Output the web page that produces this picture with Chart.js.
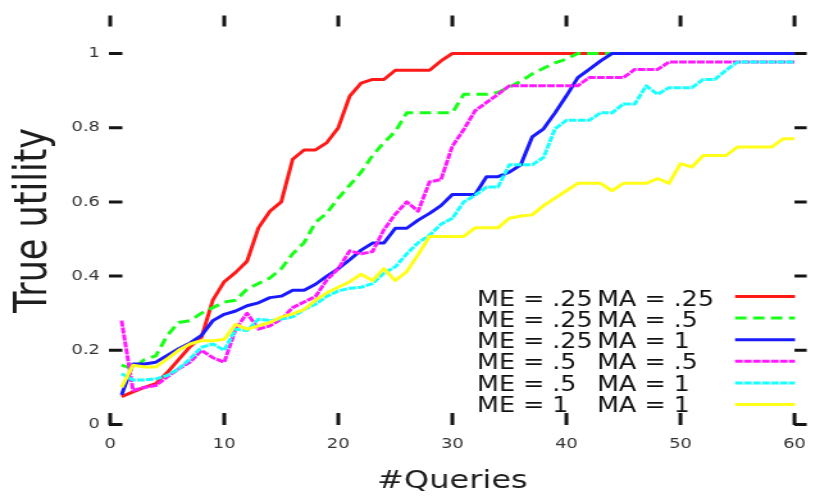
<!DOCTYPE html>
<html>
<head>
<meta charset="utf-8">
<script src="https://cdn.jsdelivr.net/npm/chart.js@4.4.1/dist/chart.umd.min.js"></script>
<style>
  html, body { margin: 0; padding: 0; background: #fff; overflow: hidden; }
  /* the plot is laid out on a 640px-wide stage and widened to 820px */
  #stage { width: 640px; height: 497px; transform: scaleX(1.28125); transform-origin: 0 0; }
</style>
</head>
<body>
<div id="stage"><canvas id="chart"></canvas></div>
<script>
// number of queries asked so far
const queries = [
  1, 2, 3, 4, 5, 6, 7, 8, 9, 10,
  11, 12, 13, 14, 15, 16, 17, 18, 19, 20,
  21, 22, 23, 24, 25, 26, 27, 28, 29, 30,
  31, 32, 33, 34, 35, 36, 37, 38, 39, 40,
  41, 42, 43, 44, 45, 46, 47, 48, 49, 50,
  51, 52, 53, 54, 55, 56, 57, 58, 59, 60
];

const xTicks = [0, 10, 20, 30, 40, 50, 60];
const xTickLabels = ['0', '10', '20', '30', '40', '50', '60'];
const yTicks = [0, 0.2, 0.4, 0.6, 0.8, 1];
const yTickLabels = ['0', '0.2', '0.4', '0.6', '0.8', '1'];

// ME / MA settings of each run
const meValues = ['.25', '.25', '.25', '.5', '.5', '1'];
const maValues = ['.25', '.5', '1', '.5', '1', '1'];

// true utility after each query
const utilMe25Ma25 = [
  0.075, 0.088, 0.10, 0.11, 0.14, 0.175, 0.21, 0.235, 0.335, 0.385,
  0.41, 0.44, 0.53, 0.575, 0.60, 0.715, 0.74, 0.74, 0.76, 0.80,
  0.885, 0.92, 0.93, 0.93, 0.955, 0.955, 0.955, 0.955, 0.98, 1,
  1, 1, 1, 1, 1, 1, 1, 1, 1, 1,
  1, 1, 1, 1, 1, 1, 1, 1, 1, 1,
  1, 1, 1, 1, 1, 1, 1, 1, 1, 1
];
const utilMe25Ma5 = [
  0.16, 0.15, 0.175, 0.185, 0.24, 0.275, 0.28, 0.30, 0.315, 0.33,
  0.335, 0.365, 0.38, 0.395, 0.42, 0.46, 0.49, 0.545, 0.57, 0.61,
  0.645, 0.68, 0.725, 0.76, 0.79, 0.84, 0.84, 0.84, 0.84, 0.84,
  0.89, 0.89, 0.89, 0.895, 0.91, 0.925, 0.945, 0.96, 0.975, 0.985,
  1, 1, 1, 1, 1, 1, 1, 1, 1, 1,
  1, 1, 1, 1, 1, 1, 1, 1, 1, 1
];
const utilMe25Ma1 = [
  0.08, 0.163, 0.163, 0.168, 0.186, 0.204, 0.22, 0.24, 0.28, 0.297,
  0.306, 0.32, 0.328, 0.342, 0.346, 0.362, 0.362, 0.378, 0.40, 0.42,
  0.444, 0.47, 0.489, 0.489, 0.529, 0.529, 0.551, 0.569, 0.59, 0.62,
  0.62, 0.62, 0.668, 0.668, 0.68, 0.70, 0.775, 0.797, 0.84, 0.886,
  0.935, 0.957, 0.98, 1, 1, 1, 1, 1, 1, 1,
  1, 1, 1, 1, 1, 1, 1, 1, 1, 1
];
const utilMe5Ma5 = [
  0.28, 0.092, 0.10, 0.105, 0.128, 0.15, 0.168, 0.20, 0.18, 0.168,
  0.257, 0.30, 0.257, 0.266, 0.284, 0.315, 0.33, 0.345, 0.39, 0.42,
  0.468, 0.46, 0.466, 0.525, 0.567, 0.60, 0.575, 0.654, 0.66, 0.75,
  0.795, 0.846, 0.868, 0.89, 0.913, 0.913, 0.913, 0.913, 0.913, 0.913,
  0.913, 0.935, 0.935, 0.935, 0.935, 0.957, 0.957, 0.957, 0.977, 0.977,
  0.977, 0.977, 0.977, 0.977, 0.977, 0.977, 0.977, 0.977, 0.977, 0.977
];
const utilMe5Ma1 = [
  0.137, 0.12, 0.12, 0.123, 0.132, 0.15, 0.177, 0.208, 0.217, 0.20,
  0.257, 0.253, 0.284, 0.28, 0.284, 0.29, 0.31, 0.324, 0.346, 0.36,
  0.367, 0.37, 0.38, 0.408, 0.425, 0.46, 0.49, 0.51, 0.54, 0.556,
  0.60, 0.618, 0.64, 0.64, 0.70, 0.70, 0.70, 0.72, 0.797, 0.82,
  0.82, 0.82, 0.84, 0.84, 0.864, 0.864, 0.913, 0.89, 0.908, 0.908,
  0.908, 0.93, 0.93, 0.955, 0.977, 0.977, 0.977, 0.977, 0.977, 0.977
];
const utilMe1Ma1 = [
  0.10, 0.16, 0.155, 0.155, 0.177, 0.20, 0.217, 0.226, 0.226, 0.23,
  0.27, 0.257, 0.266, 0.275, 0.29, 0.298, 0.31, 0.335, 0.355, 0.37,
  0.385, 0.405, 0.388, 0.42, 0.388, 0.412, 0.458, 0.507, 0.507, 0.507,
  0.507, 0.53, 0.53, 0.53, 0.556, 0.562, 0.565, 0.59, 0.61, 0.63,
  0.65, 0.65, 0.65, 0.63, 0.65, 0.65, 0.65, 0.663, 0.65, 0.703,
  0.694, 0.725, 0.725, 0.725, 0.748, 0.748, 0.748, 0.748, 0.77, 0.77
];

const seriesValues = [utilMe25Ma25, utilMe25Ma5, utilMe25Ma1, utilMe5Ma5, utilMe5Ma1, utilMe1Ma1];
const seriesColors = ['#ff1a1a', '#1aff1a', '#1a1aff', '#ff1aff', '#1affff', '#ffff1a'];
const seriesDashes = [[], [9, 5], [], [6, 1], [6, 1], []];

const FONT = '"DejaVu Sans", "Liberation Sans", sans-serif';

const datasets = seriesValues.map((vals, i) => ({
  label: 'ME = ' + meValues[i] + ' MA = ' + maValues[i],
  data: queries.map((q, k) => ({ x: q, y: vals[k] })),
  borderColor: seriesColors[i],
  borderDash: seriesDashes[i],
  borderWidth: 3,
  fill: false,
  pointRadius: 0,
  tension: 0,
  order: seriesValues.length - i   // later runs are painted on top
}));

// short tick marks on all four sides
const frameTicks = {
  id: 'frameTicks',
  afterDatasetsDraw(chart) {
    const { ctx, chartArea: a, scales: { x, y } } = chart;
    ctx.save();
    ctx.strokeStyle = '#151515';
    ctx.lineCap = 'butt';
    ctx.setLineDash([]);
    ctx.lineWidth = 3;
    y.ticks.forEach(t => {
      const py = y.getPixelForValue(t.value);
      ctx.beginPath();
      ctx.moveTo(a.left - 1, py); ctx.lineTo(a.left + 9.5, py);
      ctx.moveTo(a.right, py); ctx.lineTo(a.right + 9.5, py);
      ctx.stroke();
    });
    x.ticks.forEach(t => {
      const px = x.getPixelForValue(t.value);
      ctx.beginPath();
      ctx.moveTo(px, a.bottom + 0.5); ctx.lineTo(px, a.bottom - 11.5);
      ctx.moveTo(px, a.top - 1); ctx.lineTo(px, a.top + 10);
      ctx.stroke();
    });
    ctx.restore();
  }
};

// key inside the plot, lower right
const keyBox = {
  id: 'keyBox',
  afterDraw(chart) {
    const { ctx } = chart;
    chart.data.datasets.forEach((ds, i) => {
      const base = 305.5 + i * 21.3;
      ctx.save();
      ctx.font = '22px ' + FONT;
      ctx.fillStyle = '#111';
      ctx.textBaseline = 'alphabetic';
      ctx.translate(372.3, base);
      ctx.scale(0.9, 1);
      ctx.fillText('ME = ' + meValues[i], 0, 0);
      ctx.fillText('MA = ' + maValues[i], (466 - 372.3) / 0.9, 0);
      ctx.restore();

      const ly = 296.5 + i * 21.6;
      ctx.save();
      ctx.strokeStyle = ds.borderColor;
      ctx.lineWidth = 3;
      ctx.setLineDash(ds.borderDash || []);
      ctx.beginPath();
      ctx.moveTo(573.7, ly); ctx.lineTo(620.5, ly);
      ctx.stroke();
      ctx.restore();
    });
  }
};

new Chart(document.getElementById('chart'), {
  type: 'line',
  data: { datasets },
  options: {
    responsive: true,
    maintainAspectRatio: false,
    animation: false,
    layout: { padding: { top: 13, right: 10, left: 0, bottom: 0 } },
    plugins: { legend: { display: false }, tooltip: { enabled: false } },
    elements: { line: { borderJoinStyle: 'round' } },
    scales: {
      x: {
        type: 'linear', min: 0, max: 60,
        grid: { display: false, drawTicks: false },
        border: { display: false },
        afterBuildTicks: s => { s.ticks = xTicks.map(v => ({ value: v })); },
        afterFit: s => { s.height = 72.5; },
        ticks: {
          padding: 11, maxRotation: 0, autoSkip: false, color: '#333',
          font: { family: FONT, size: 14 },
          callback: (v, i) => xTickLabels[i]
        },
        title: {
          display: true, text: '#Queries', color: '#1e1e1e',
          font: { family: FONT, size: 25, lineHeight: 1 },
          padding: { top: 0, bottom: 3 }
        }
      },
      y: {
        type: 'linear', min: 0, max: 1.1,
        grid: { display: false, drawTicks: false },
        border: { display: false },
        afterBuildTicks: s => { s.ticks = yTicks.map(v => ({ value: v })); },
        afterFit: s => { s.width = 86; },
        ticks: {
          padding: 8, color: '#333',
          font: { family: FONT, size: 14 },
          callback: (v, i) => yTickLabels[i]
        },
        title: {
          display: true, text: 'True utility', color: '#1e1e1e',
          font: { family: FONT, size: 35, lineHeight: 1 },
          padding: { top: 9, bottom: 0 }
        }
      }
    }
  },
  plugins: [frameTicks, keyBox]
});
</script>
</body>
</html>
